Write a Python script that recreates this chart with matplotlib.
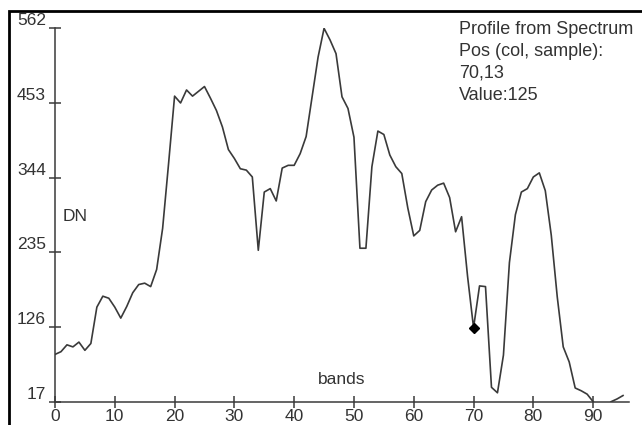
import numpy as np
import matplotlib
matplotlib.use("Agg")
import matplotlib.pyplot as plt
from matplotlib.patches import Rectangle

plt.rcParams['font.family'] = ['Liberation Sans', 'DejaVu Sans']

# spectral profile, one DN value per band
bands = list(range(96))
dn = [86, 90, 100, 97, 104, 92, 102, 155, 171, 168,
      155, 139, 156, 176, 188, 190, 185, 210, 270, 365,
      463, 453, 472, 463, 470, 477, 460, 442, 418, 385,
      372, 357, 355, 345, 238, 323, 328, 310, 358, 362,
      362, 379, 404, 462, 520, 562, 545, 525, 462, 445,
      403, 241, 241, 360, 412, 407, 377, 360, 350, 300,
      259, 267, 309, 326, 333, 336, 315, 265, 287, 200,
      125, 186, 185, 38, 30, 85, 220, 290, 323, 328,
      345, 351, 325, 260, 170, 97, 75, 37, 33, 28,
      17, 8, 5, 17, 21, 26]

sel_band = 70
sel_sample = 13
sel_value = 125

yticks = [17, 126, 235, 344, 453, 562]
xticks = [0, 10, 20, 30, 40, 50, 60, 70, 80, 90]

W, H = 642, 425
fig = plt.figure(figsize=(W / 100, H / 100), dpi=100)
ax = fig.add_axes([55 / W, 1 - 401.7 / H, (629 - 55) / W, (401.7 - 28.3) / H])

line_col = '#3a3a3a'
txt_col = '#333333'

ax.plot(bands, dn, color=line_col, lw=1.2, clip_on=True)
ax.plot([sel_band], [sel_value], marker='D', ms=5, color='black', clip_on=False)

ax.set_xlim(0, 96)
ax.set_ylim(17, 562)
ax.spines['top'].set_visible(False)
ax.spines['right'].set_visible(False)
for s in ('left', 'bottom'):
    ax.spines[s].set_color(line_col)
    ax.spines[s].set_linewidth(1.1)

ax.set_xticks(xticks)
ax.set_xticklabels([str(t) for t in xticks])
ax.set_yticks(yticks)
ax.set_yticklabels([str(t) for t in yticks], va='bottom')
ax.tick_params(axis='both', direction='inout', length=9, width=1.1,
               color=line_col, labelcolor=txt_col, labelsize=12.5)
ax.tick_params(axis='x', pad=1)
ax.tick_params(axis='y', pad=2)

fig.text(63 / W, 1 - 216.7 / H, 'DN', fontsize=12.5, color=txt_col,
         ha='left', va='center')
fig.text(342 / W, 1 - 380 / H, 'bands', fontsize=12.5, color=txt_col,
         ha='center', va='center')

info = ['Profile from Spectrum', 'Pos (col, sample):',
        f'{sel_band},{sel_sample}', f'Value:{sel_value}']
for i, s in enumerate(info):
    fig.text(459 / W, 1 - (29 + 22 * i) / H, s, fontsize=13, color=txt_col,
             ha='left', va='center')

# window frame
fig.patches.append(Rectangle((8.5 / W, -0.2), 1.2, 1.2 - 10.5 / H,
                             transform=fig.transFigure, fill=False,
                             edgecolor='black', lw=2, clip_on=False))

fig.savefig('out.png', dpi=100, facecolor='white')
